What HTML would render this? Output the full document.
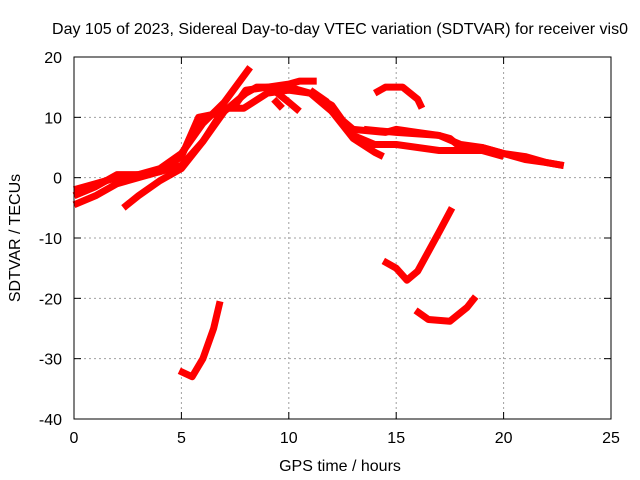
<!DOCTYPE html>
<html><head><meta charset="utf-8"><style>
body{margin:0;background:#fff}
svg{display:block;font-family:"Liberation Sans",sans-serif;font-size:16px}
</style></head><body>
<svg id="chart" width="640" height="480">
<text x="340" y="34" text-anchor="middle">Day 105 of 2023, Sidereal Day-to-day VTEC variation (SDTVAR) for receiver vis0</text>
<text x="340" y="471" text-anchor="middle">GPS time / hours</text>
<text x="0" y="0" transform="translate(20,238) rotate(-90)" text-anchor="middle">SDTVAR / TECUs</text>
<g id="grid"></g><g id="series"></g>
<rect x="74" y="57" width="537" height="362" fill="none" stroke="#000" stroke-width="1"/>
</svg>
<script>
const xTicks=[0,5,10,15,20,25];
const yTicks=[20,10,0,-10,-20,-30,-40];
const s1=[[0,-2],[1,-1],[2,0],[3,0.5],[4,1.5],[5,4],[6,9],[7,12.5],[8.2,18.3]];
const s2=[[0,-3],[1,-1.5],[2,0.5],[3,0.5],[4,1],[5,3.5],[5.8,10],[6.5,10.5],[7.5,12],[8,14.5],[9,15],[10,15.5],[10.5,16],[11.3,16]];
const s3=[[0,-4.5],[1,-3],[2,-1],[3,0],[4,1],[5,2],[6,6],[7,11],[8,14],[8.5,15],[10,15],[11,14],[12,11],[13,8],[14.5,7.5],[15,8],[16,7.5],[17,7],[18,5.5],[19,5],[20,4],[21,3.5],[22,2.5],[22.8,2]];
const s4=[[2.3,-5],[3,-3],[4,-0.5],[5,1.5],[6,6],[7,11.5],[7.9,11.5],[9,14],[10,14.5],[11,14],[12,12],[13,7],[14,5.5],[15,5.5],[16,5],[17,4.5],[18,4.5],[19,4.5],[20,3.5]];
const s5=[[9.3,14.5],[10,12.5],[10.5,11]];
const s6=[[9.3,13],[9.7,11.5]];
const s7=[[11,14.5],[11.8,12.5]];
const s8=[[12,11],[13,6.5],[14,4.2],[14.4,3.5]];
const s9=[[13.5,8],[15,7.5],[17,7],[17.5,6.5],[18,5],[19,5],[20,4],[21,3],[22,2.5],[22.8,2]];
const s10=[[14,14],[14.5,15],[15.3,15],[16,13],[16.2,11.5]];
const s11=[[4.9,-32],[5.5,-33],[6,-30],[6.5,-25],[6.8,-20.5]];
const s12=[[14.4,-13.8],[15,-15],[15.5,-17],[16,-15.5],[17,-9],[17.6,-5]];
const s13=[[15.9,-22],[16.5,-23.5],[17.5,-23.8],[18.3,-21.5],[18.7,-19.7]];
const allSeries=[s1,s2,s3,s4,s5,s6,s7,s8,s9,s10,s11,s12,s13];
const X=v=>74+v*537/25, Y=v=>57+(20-v)*362/60;
const NS="http://www.w3.org/2000/svg";
const grid=document.getElementById('grid'), ser=document.getElementById('series');
function mk(tag,attrs,parent){const e=document.createElementNS(NS,tag);for(const k in attrs)e.setAttribute(k,attrs[k]);parent.appendChild(e);return e;}
xTicks.forEach(t=>{
 if(t>0&&t<25){const l=mk('line',{x1:X(t),x2:X(t),y1:57,y2:419,stroke:'#a0a0a0','stroke-dasharray':'2,3'},grid);
 
 }
 mk('line',{x1:X(t),x2:X(t),y1:419,y2:412,stroke:'#000'},grid);
 mk('line',{x1:X(t),x2:X(t),y1:57,y2:64,stroke:'#000'},grid);
 const tx=mk('text',{x:X(t),y:443,'text-anchor':'middle'},grid);tx.textContent=t;
 
 
});
yTicks.forEach(t=>{
 if(t<20&&t>-40){const l=mk('line',{x1:74,x2:611,y1:Y(t),y2:Y(t),stroke:'#a0a0a0','stroke-dasharray':'2,3'},grid);
 
 }
 mk('line',{x1:74,x2:81,y1:Y(t),y2:Y(t),stroke:'#000'},grid);
 mk('line',{x1:611,x2:604,y1:Y(t),y2:Y(t),stroke:'#000'},grid);
 const tx=mk('text',{x:62,y:Y(t)+6,'text-anchor':'end'},grid);tx.textContent=t;
 
 
});
allSeries.forEach(s=>{
 const p=mk('polyline',{points:s.map(d=>X(d[0])+','+Y(d[1])).join(' '),fill:'none',stroke:'#ff0000','stroke-width':7,'stroke-linejoin':'round','stroke-linecap':'butt'},ser);
 
 
});
</script>
</body></html>
